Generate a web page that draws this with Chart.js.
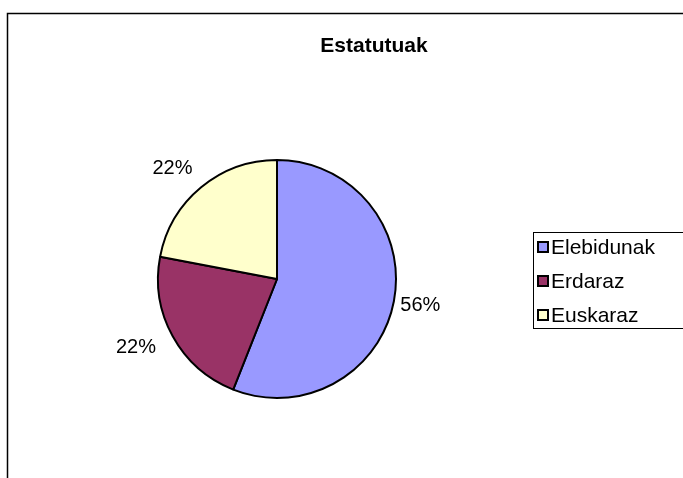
<!DOCTYPE html>
<html>
<head>
<meta charset="utf-8">
<script src="https://cdn.jsdelivr.net/npm/chart.js"></script>
<style>
  html, body { margin: 0; padding: 0; background: #fff; }
  #wrap { width: 683px; height: 478px; }
</style>
</head>
<body>
<div id="wrap"><canvas id="pie" width="683" height="478"></canvas></div>
<script>
const chartTitle = "Estatutuak";
const labels = ["Elebidunak", "Erdaraz", "Euskaraz"];
const values = [56, 22, 22];
const colors = ["#9999FF", "#993366", "#FFFFCC"];

const FONT = "'Liberation Sans', Arial, sans-serif";

// frame, title, outside % labels and the boxed legend
const excelLook = {
  id: "excelLook",
  beforeDraw(chart) {
    const c = chart.ctx;
    c.save();
    c.fillStyle = "#fff";
    c.fillRect(0, 0, chart.width, chart.height);
    c.strokeStyle = "#000";
    c.lineWidth = 1.5;
    c.strokeRect(7.5, 13.5, 720, 520);
    c.restore();
  },
  afterDraw(chart) {
    const c = chart.ctx;
    const meta = chart.getDatasetMeta(0);
    const total = values.reduce((a, b) => a + b, 0);
    c.save();
    c.fillStyle = "#000";
    c.font = "bold 21px " + FONT;
    c.textAlign = "center";
    c.textBaseline = "middle";
    c.fillText(chartTitle, 374, 46);

    c.font = "20px " + FONT;
    meta.data.forEach((arc, i) => {
      const p = arc.getProps(["x", "y", "startAngle", "endAngle", "outerRadius"], true);
      const mid = (p.startAngle + p.endAngle) / 2;
      const cs = Math.cos(mid), sn = Math.sin(mid);
      const txt = Math.round(values[i] / total * 100) + "%";
      const w = c.measureText(txt).width, h = 20;
      const d = p.outerRadius + 14;
      const tx = p.x + cs * d + cs * w / 2 - 7;
      const ty = p.y + sn * d + sn * h / 2;
      c.fillText(txt, tx, ty);
    });

    // legend
    const lx = 533, ly = 232, lh = 96;
    c.strokeStyle = "#000";
    c.lineWidth = 1;
    c.strokeRect(lx + 0.5, ly + 0.5, 200, lh);
    c.textAlign = "left";
    c.font = "21px " + FONT;
    labels.forEach((lab, i) => {
      const cy = ly + 15 + i * 34;
      c.fillStyle = colors[i];
      c.fillRect(538, cy - 5, 10, 10);
      c.lineWidth = 2;
      c.strokeRect(538, cy - 5, 10, 10);
      c.fillStyle = "#000";
      c.fillText(lab, 551, cy + 1);
    });
    c.restore();
  }
};

new Chart(document.getElementById("pie"), {
  type: "pie",
  data: {
    labels: labels,
    datasets: [{
      data: values,
      backgroundColor: colors,
      borderColor: "#000",
      borderWidth: 2
    }]
  },
  options: {
    responsive: false,
    animation: false,
    layout: { padding: { left: 157, right: 286, top: 159, bottom: 79 } },
    plugins: {
      legend: { display: false },
      tooltip: { enabled: false },
      title: { display: false }
    }
  },
  plugins: [excelLook]
});
</script>
</body>
</html>
